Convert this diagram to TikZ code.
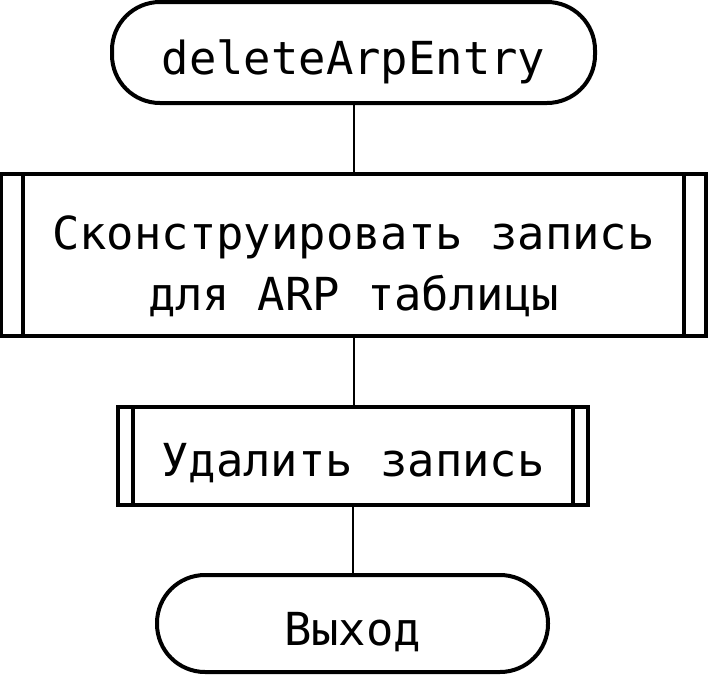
\documentclass[tikz,border=0pt]{standalone}
\usepackage{fontspec}
\setmonofont{DejaVu Sans Mono}
\begin{document}
\begin{tikzpicture}[x=1pt,y=-1pt,
  every node/.style={font=\ttfamily\fontsize{45.5}{55}\selectfont, line width=4pt, draw, inner sep=0pt, outer sep=0pt},
  term/.style={rounded corners=48pt, fill=white},
  proc/.style={fill=white, path picture={
      \draw[line width=4pt] ([xshift=#1]path picture bounding box.north west) -- ([xshift=#1]path picture bounding box.south west);
      \draw[line width=4pt] ([xshift=-#1]path picture bounding box.north east) -- ([xshift=-#1]path picture bounding box.south east);}},
  conn/.style={line width=2pt}]
\useasboundingbox (0,0) rectangle (710,675);
\node[term, minimum width=483pt, minimum height=101pt, text height=44pt, text depth=0pt] (t1) at (353.5,52.5) {deleteArpEntry};
\node[proc=22pt, minimum width=705pt, minimum height=162pt, text height=0pt, text depth=0pt] (p1) at (353.5,255)
  {\makebox[0pt]{\raisebox{6pt}[0pt][0pt]{Сконструировать запись}}\makebox[0pt]{\raisebox{-55.5pt}[0pt][0pt]{для ARP таблицы}}};
\node[proc=15pt, minimum width=470pt, minimum height=98pt, text height=40pt, text depth=0pt] (p2) at (353,456) {Удалить запись};
\node[term, minimum width=391pt, minimum height=97pt, text height=43pt, text depth=0pt] (t2) at (352.5,623.5) {Выход};
\draw[conn] (t1.south) -- (t1.south |- p1.north);
\draw[conn] (p1.south) -- (p1.south |- p2.north);
\draw[conn] (p2.south) -- (p2.south |- t2.north);
\end{tikzpicture}
\end{document}
